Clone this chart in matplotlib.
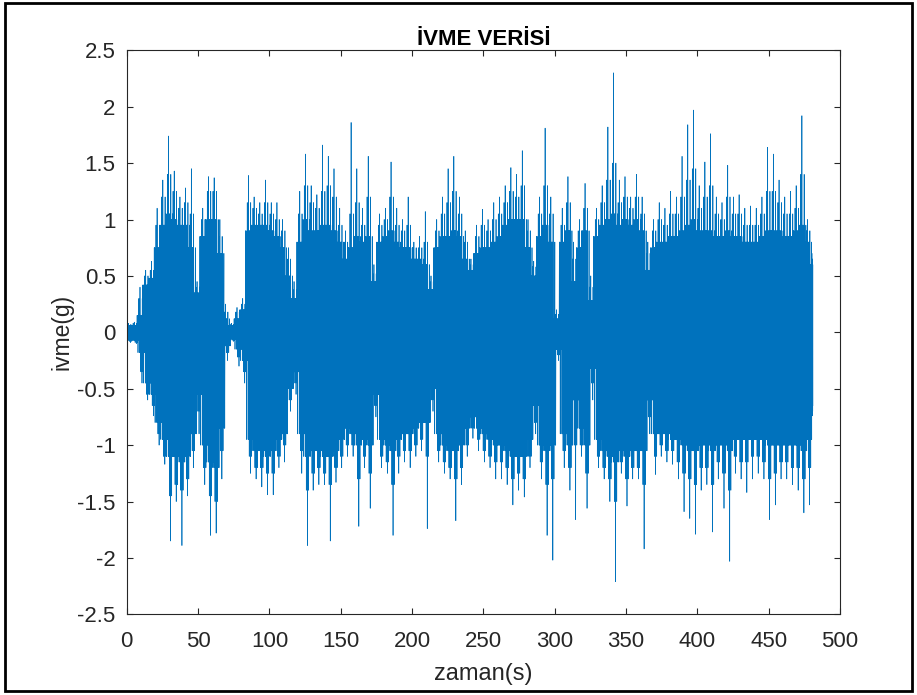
import numpy as np
import matplotlib
matplotlib.use("Agg")
import matplotlib.pyplot as plt
from matplotlib.patches import Rectangle

# Envelope, 4-second bins starting at t = 0
bin_width = 4.0
t_end = 481.0
# highest / lowest spike in each bin
peak_hi = [0.08, 0.09, 0.40, 0.55, 0.63, 1.10, 1.35, 1.74, 1.43, 1.20,
           1.28, 1.45, 0.45, 1.10, 1.38, 1.37, 1.00, 0.25, 0.08, 0.22,
           0.30, 1.39, 1.20, 1.15, 1.35, 1.15, 1.15, 1.00, 0.75, 0.45,
           1.25, 1.58, 1.30, 1.22, 1.66, 1.56, 1.45, 1.10, 0.90, 1.86,
           1.45, 1.10, 1.56, 0.60, 1.05, 1.10, 1.51, 1.10, 1.00, 1.20,
           0.80, 0.85, 1.07, 0.50, 1.00, 1.20, 1.45, 1.56, 1.20, 0.90,
           0.65, 0.95, 1.09, 1.00, 1.15, 1.20, 1.30, 1.46, 1.40, 1.61,
           1.00, 0.63, 1.20, 1.81, 1.20, 0.20, 1.10, 1.38, 0.80, 1.00,
           1.32, 0.50, 1.10, 1.30, 1.82, 2.30, 1.35, 1.38, 1.20, 1.40,
           1.20, 0.80, 1.00, 1.15, 1.10, 1.25, 1.20, 1.56, 1.84, 1.97,
           1.30, 1.51, 1.76, 1.20, 1.15, 1.48, 1.20, 1.22, 1.10, 1.12,
           1.10, 1.20, 1.64, 1.58, 1.35, 1.20, 1.25, 1.30, 1.92, 1.00,
           0.70]
peak_lo = [-0.09, -0.10, -0.45, -0.60, -0.74, -1.00, -1.17, -1.85, -1.50, -1.89,
           -1.45, -1.20, -0.90, -1.35, -1.80, -1.78, -1.30, -0.25, -0.08, -0.30,
           -0.45, -1.25, -1.30, -1.37, -1.44, -1.44, -1.20, -1.15, -0.70, -0.55,
           -1.25, -1.89, -1.40, -1.35, -1.35, -1.85, -1.33, -1.20, -1.10, -1.10,
           -1.72, -1.20, -1.56, -0.75, -1.20, -1.25, -1.80, -1.25, -1.15, -1.20,
           -1.10, -1.05, -1.74, -0.70, -1.15, -1.25, -1.30, -1.67, -1.35, -1.10,
           -0.94, -1.05, -1.15, -1.20, -1.30, -1.30, -1.35, -1.53, -1.40, -1.46,
           -1.20, -0.90, -1.30, -1.80, -2.02, -0.25, -1.20, -1.40, -1.66, -1.10,
           -1.56, -0.60, -1.20, -1.30, -1.50, -2.21, -1.25, -1.54, -1.30, -1.30,
           -1.92, -0.90, -1.26, -1.10, -1.15, -1.17, -1.30, -1.59, -1.65, -1.79,
           -1.40, -1.35, -1.77, -1.30, -1.56, -2.03, -1.25, -1.30, -1.42, -1.30,
           -1.25, -1.30, -1.66, -1.53, -1.30, -1.30, -1.35, -1.40, -1.60, -1.53,
           -0.74]
# edge of the solid band in each bin
core_hi = [0.06, 0.06, 0.15, 0.42, 0.48, 0.75, 0.95, 1.05, 1.00, 0.95,
           0.95, 0.75, 0.35, 0.85, 1.00, 1.00, 0.70, 0.12, 0.06, 0.12,
           0.20, 0.90, 0.95, 0.95, 0.95, 0.90, 0.85, 0.75, 0.50, 0.30,
           0.80, 1.00, 0.90, 0.90, 0.95, 0.95, 0.90, 0.80, 0.65, 0.75,
           0.85, 0.80, 0.85, 0.45, 0.80, 0.85, 0.90, 0.80, 0.75, 0.75,
           0.65, 0.65, 0.60, 0.38, 0.75, 0.85, 0.85, 0.90, 0.85, 0.65,
           0.55, 0.70, 0.75, 0.75, 0.80, 0.85, 0.95, 1.00, 1.00, 1.00,
           0.75, 0.50, 0.85, 0.95, 0.80, 0.12, 0.80, 0.90, 0.45, 0.75,
           0.90, 0.28, 0.85, 0.95, 1.00, 1.05, 0.95, 1.00, 0.95, 1.00,
           0.90, 0.55, 0.75, 0.80, 0.80, 0.85, 0.85, 0.90, 0.95, 1.00,
           0.90, 0.90, 0.90, 0.85, 0.85, 0.90, 0.85, 0.85, 0.80, 0.80,
           0.80, 0.85, 0.90, 0.90, 0.90, 0.85, 0.85, 0.90, 0.95, 0.80,
           0.60]
core_lo = [-0.07, -0.07, -0.18, -0.45, -0.55, -0.80, -0.95, -1.10, -1.10, -1.15,
           -1.10, -0.90, -0.55, -1.00, -1.15, -1.20, -0.85, -0.12, -0.06, -0.15,
           -0.25, -0.95, -1.05, -1.05, -1.10, -1.05, -0.95, -0.90, -0.50, -0.35,
           -0.90, -1.10, -1.05, -1.05, -1.10, -1.10, -1.05, -0.95, -0.85, -0.90,
           -1.00, -0.95, -1.00, -0.55, -0.95, -1.00, -1.05, -0.95, -0.90, -0.90,
           -0.85, -0.80, -0.80, -0.50, -0.90, -1.00, -1.05, -1.05, -1.00, -0.85,
           -0.75, -0.85, -0.90, -0.95, -1.00, -1.00, -1.05, -1.10, -1.10, -1.10,
           -0.95, -0.65, -1.00, -1.05, -1.00, -0.15, -0.90, -1.00, -0.60, -0.85,
           -1.00, -0.32, -0.95, -1.05, -1.10, -1.15, -1.05, -1.10, -1.05, -1.05,
           -1.05, -0.60, -0.90, -0.90, -0.90, -0.95, -0.95, -1.00, -1.05, -1.05,
           -1.00, -1.00, -1.05, -1.00, -1.00, -1.05, -0.95, -0.95, -0.95, -0.95,
           -0.95, -0.95, -1.00, -1.00, -1.00, -1.00, -1.00, -1.00, -1.05, -0.95,
           -0.65]
# second-tallest spikes in each bin
mid_hi = [0.07, 0.08, 0.30, 0.50, 0.55, 0.95, 1.20, 1.40, 1.25, 1.10,
          1.15, 1.05, 0.40, 1.00, 1.25, 1.25, 0.85, 0.18, 0.07, 0.18,
          0.25, 1.15, 1.10, 1.05, 1.15, 1.05, 1.00, 0.90, 0.65, 0.38,
          1.05, 1.30, 1.15, 1.10, 1.25, 1.30, 1.20, 0.95, 0.80, 1.05,
          1.15, 0.95, 1.20, 0.52, 0.95, 1.00, 1.20, 0.95, 0.90, 0.95,
          0.75, 0.75, 0.80, 0.45, 0.90, 1.05, 1.15, 1.25, 1.05, 0.80,
          0.60, 0.85, 0.95, 0.90, 1.00, 1.05, 1.15, 1.25, 1.20, 1.30,
          0.90, 0.58, 1.05, 1.30, 1.05, 0.16, 0.95, 1.15, 0.65, 0.90,
          1.10, 0.40, 1.00, 1.15, 1.35, 1.50, 1.15, 1.20, 1.10, 1.20,
          1.05, 0.70, 0.90, 1.00, 0.95, 1.05, 1.05, 1.20, 1.35, 1.45,
          1.10, 1.20, 1.30, 1.05, 1.00, 1.20, 1.05, 1.05, 0.95, 0.95,
          0.95, 1.05, 1.25, 1.25, 1.15, 1.05, 1.05, 1.10, 1.40, 0.90,
          0.65]
mid_lo = [-0.08, -0.09, -0.35, -0.55, -0.65, -0.90, -1.10, -1.45, -1.35, -1.40,
          -1.30, -1.05, -0.70, -1.20, -1.45, -1.50, -1.05, -0.18, -0.07, -0.22,
          -0.35, -1.10, -1.20, -1.20, -1.25, -1.25, -1.10, -1.00, -0.60, -0.45,
          -1.05, -1.40, -1.25, -1.20, -1.25, -1.35, -1.20, -1.10, -1.00, -1.00,
          -1.30, -1.10, -1.25, -0.65, -1.10, -1.15, -1.35, -1.10, -1.05, -1.05,
          -1.00, -0.95, -1.10, -0.60, -1.05, -1.15, -1.20, -1.30, -1.20, -1.00,
          -0.85, -0.95, -1.05, -1.10, -1.15, -1.15, -1.20, -1.30, -1.25, -1.30,
          -1.10, -0.80, -1.15, -1.35, -1.30, -0.20, -1.05, -1.20, -1.00, -1.00,
          -1.25, -0.45, -1.10, -1.20, -1.30, -1.50, -1.15, -1.30, -1.20, -1.20,
          -1.35, -0.75, -1.10, -1.00, -1.05, -1.05, -1.15, -1.25, -1.30, -1.35,
          -1.20, -1.20, -1.35, -1.15, -1.25, -1.40, -1.10, -1.15, -1.15, -1.10,
          -1.10, -1.15, -1.30, -1.25, -1.15, -1.15, -1.20, -1.20, -1.30, -1.20,
          -0.70]

xticks = [0, 50, 100, 150, 200, 250, 300, 350, 400, 450, 500]
yticks = [-2.5, -2, -1.5, -1, -0.5, 0, 0.5, 1, 1.5, 2, 2.5]
title = "İVME VERİSİ"
xlabel = "zaman(s)"
ylabel = "ivme(g)"

# Build the trace: in each bin the signal swings across its solid band
# (mixing in the neighbouring bins' band edges), with the read spikes among the swings
n_bins = len(peak_hi)
t_list, y_list = [], []
for k in range(n_bins):
    kp, kn = max(k - 1, 0), min(k + 1, n_bins - 1)
    ch, cl = core_hi[k], core_lo[k]
    chp, clp = core_hi[kp], core_lo[kp]
    chn, cln = core_hi[kn], core_lo[kn]
    vals = [chp, clp, mid_hi[k], clp, ch, cl, peak_hi[k], cl, ch, mid_lo[k],
            ch, cl, ch, peak_lo[k], mid_hi[k], cl, chn, mid_lo[k], chn, cln]
    n_per = len(vals)
    start = k * bin_width
    stop = min(start + bin_width, t_end)
    for j, v in enumerate(vals):
        t_list.append(start + (stop - start) * (j + 0.5) / n_per)
        y_list.append(v)
t = np.array(t_list)
y = np.array(y_list)

plt.rcParams['font.family'] = ['Liberation Sans', 'DejaVu Sans']
fig = plt.figure(figsize=(9.17, 6.95), dpi=100)
ax = fig.add_axes([0.1382, 0.1161, 0.916 - 0.1382, 0.9276 - 0.1161])
ax.plot(t, y, color='#0072BD', linewidth=0.5)
ax.set_xlim(0, 500)
ax.set_ylim(-2.5, 2.5)
ax.set_xticks(xticks)
ax.set_xticklabels([f"{v:g}" for v in xticks])
ax.set_yticks(yticks)
ax.set_yticklabels([f"{v:g}" for v in yticks])
axcol = '#262626'
for s in ax.spines.values():
    s.set_color(axcol)
    s.set_linewidth(0.8)
ax.tick_params(direction='in', length=4.5, width=0.8, color=axcol,
               labelsize=16, labelcolor=axcol, top=True, right=True)
ax.tick_params(axis='x', pad=12)
ax.tick_params(axis='y', pad=8)
ax.set_title(title, fontsize=16, fontweight='bold', color='black', pad=4)
ax.set_xlabel(xlabel, fontsize=17, color=axcol, labelpad=8)
ax.set_ylabel(ylabel, fontsize=16.5, color=axcol, labelpad=3)

fig.patches.append(Rectangle((0.005, 0.006), 0.99, 0.989, transform=fig.transFigure,
                             fill=False, edgecolor='black', linewidth=2))
fig.savefig("out.png", dpi=100)
